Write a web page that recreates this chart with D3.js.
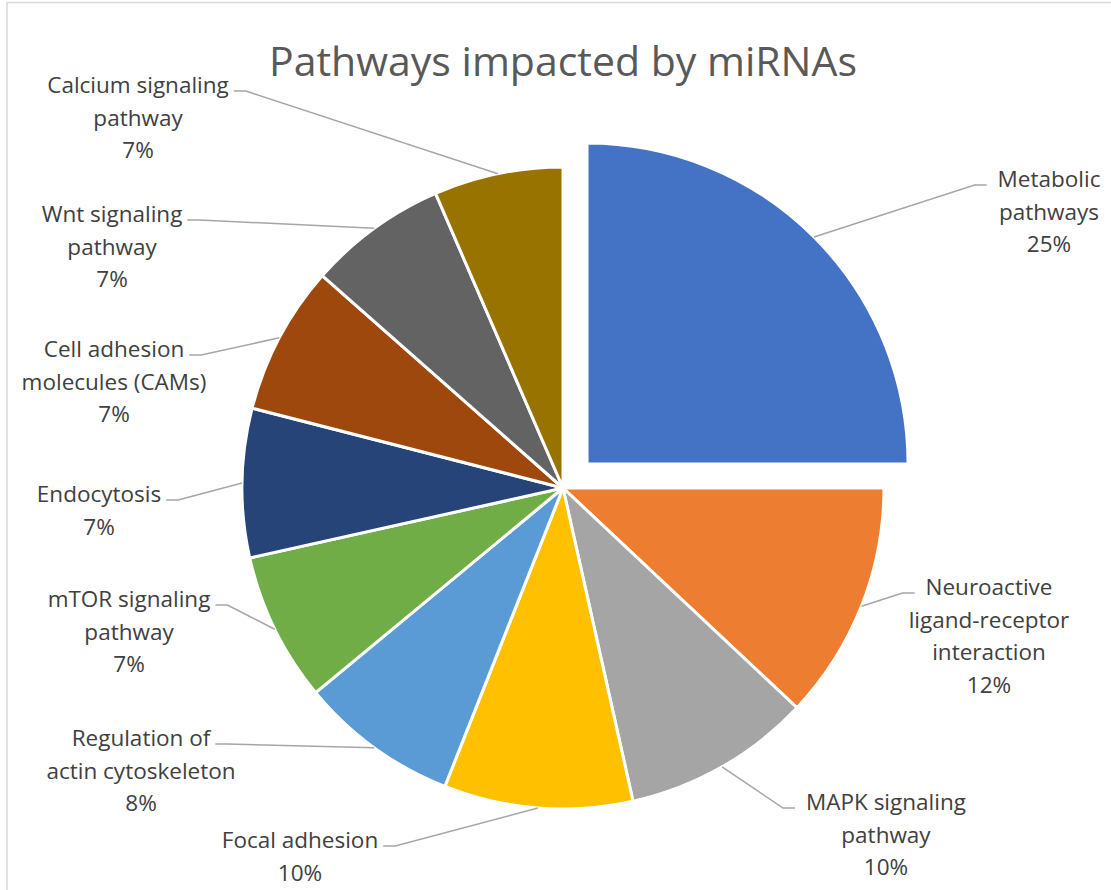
<!DOCTYPE html>
<html>
<head>
<meta charset="utf-8">
<script src="https://cdn.jsdelivr.net/npm/d3@7"></script>
<style>
  body { margin: 0; background: #fff; }
  svg text { font-family: "Open Sans", "Noto Sans", sans-serif; }
</style>
</head>
<body>
<div id="chart"></div>
<script>
// chart data
const categories = [
  'Metabolic pathways',
  'Neuroactive ligand-receptor interaction',
  'MAPK signaling pathway',
  'Focal adhesion',
  'Regulation of actin cytoskeleton',
  'mTOR signaling pathway',
  'Endocytosis',
  'Cell adhesion molecules (CAMs)',
  'Wnt signaling pathway',
  'Calcium signaling pathway'
];
const values = [50, 24, 19, 19, 16, 15, 15, 15, 14, 13];
const percentLabels = ['25%', '12%', '10%', '10%', '8%', '7%', '7%', '7%', '7%', '7%'];

// how the category names wrap in the labels
const labelLines = [
  ['Metabolic', 'pathways'],
  ['Neuroactive', 'ligand-receptor', 'interaction'],
  ['MAPK signaling', 'pathway'],
  ['Focal adhesion'],
  ['Regulation of', 'actin cytoskeleton'],
  ['mTOR signaling', 'pathway'],
  ['Endocytosis'],
  ['Cell adhesion', 'molecules (CAMs)'],
  ['Wnt signaling', 'pathway'],
  ['Calcium signaling', 'pathway']
];

const colors = ['#4472C4', '#ED7D31', '#A5A5A5', '#FFC000', '#5B9BD5',
  '#70AD47', '#264478', '#9E480E', '#636363', '#997300'];

// layout
const width = 1111;
const height = 890;
const cx = 563;
const cy = 488;
const radius = 321;
const explode = 34;
const lineHeight = 32.5;
// label anchor (centre x, first baseline) relative to the pie centre
const labelOffsets = [
  [486, -301], [426, 107], [323, 322], [-263, 360], [-422, 258],
  [-434, 119], [-464, 14], [-449, -131], [-451, -266], [-425, -395]
];

const svg = d3.select('#chart')
  .append('svg')
  .attr('width', width)
  .attr('height', height);

// chart area frame
svg.append('rect')
  .attr('x', 7)
  .attr('y', 2.5)
  .attr('width', width + 20)
  .attr('height', height + 20)
  .attr('fill', '#fff')
  .attr('stroke', '#D9D9D9')
  .attr('stroke-width', 1.5);

svg.append('text')
  .attr('x', cx)
  .attr('y', 76)
  .attr('text-anchor', 'middle')
  .attr('font-size', 41)
  .attr('fill', '#595959')
  .text('Pathways impacted by miRNAs');

const pie = d3.pie().sort(null).startAngle(0).endAngle(2 * Math.PI);
const arcs = pie(values);
const arc = d3.arc().innerRadius(0).outerRadius(radius);

const g = svg.append('g').attr('transform', `translate(${cx},${cy})`);

function shift(d, i) {
  if (i !== 0) return [0, 0];
  const mid = (d.startAngle + d.endAngle) / 2;
  return [Math.sin(mid) * explode, -Math.cos(mid) * explode];
}

g.selectAll('path.slice')
  .data(arcs)
  .enter()
  .append('path')
  .attr('class', 'slice')
  .attr('d', arc)
  .attr('transform', (d, i) => `translate(${shift(d, i)})`)
  .attr('fill', (d, i) => colors[i])
  .attr('stroke', '#fff')
  .attr('stroke-width', 3);

// data labels
const labels = g.selectAll('g.label')
  .data(arcs)
  .enter()
  .append('g')
  .attr('class', 'label');

labels.each(function (d, i) {
  const grp = d3.select(this);
  const [lx, ly] = labelOffsets[i];
  const lines = labelLines[i].concat([percentLabels[i]]);
  const txt = grp.append('text')
    .attr('text-anchor', 'middle')
    .attr('font-size', 22.5)
    .attr('fill', '#404040');
  lines.forEach((s, k) => {
    txt.append('tspan')
      .attr('x', lx)
      .attr('y', ly + k * lineHeight)
      .text(s);
  });

  // leader line: from the slice edge to a short stub next to the first line
  const firstW = txt.select('tspan').node().getComputedTextLength();
  const right = lx > 0;
  const ax = right ? lx - firstW / 2 - 11 : lx + firstW / 2 + 5;
  const ay = ly - 2;
  const bx = right ? ax - 12 : ax + 12;
  const mid = (d.startAngle + d.endAngle) / 2;
  const [sx, sy] = shift(d, i);
  const px = Math.sin(mid) * radius + sx;
  const py = -Math.cos(mid) * radius + sy;
  grp.insert('path', 'text')
    .attr('d', d3.line()([[px, py], [bx, ay], [ax, ay]]))
    .attr('fill', 'none')
    .attr('stroke', '#A6A6A6')
    .attr('stroke-width', 1.5);
});
</script>
</body>
</html>
